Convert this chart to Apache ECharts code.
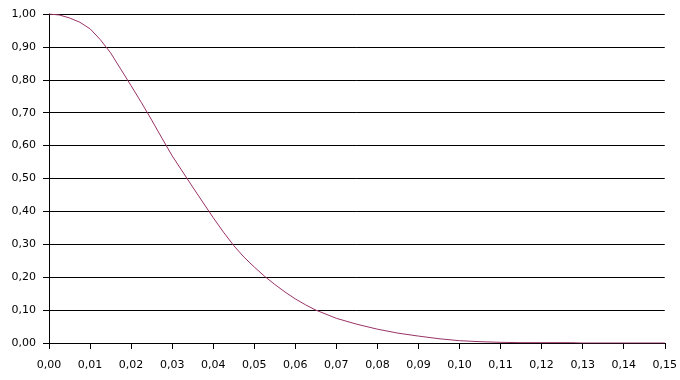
<!DOCTYPE html>
<html>
<head>
<meta charset="utf-8">
<script src="https://cdn.jsdelivr.net/npm/echarts@6/dist/echarts.min.js"></script>
<style>
html,body{margin:0;padding:0;background:#fff;}
#c{width:680px;height:380px;}
</style>
</head>
<body>
<div id="c"></div>
<script>
var xValues = [0, 0.0025, 0.005, 0.0075, 0.01, 0.0125, 0.015, 0.0175, 0.02, 0.0225, 0.025, 0.0275, 0.03, 0.035, 0.04, 0.0425, 0.045, 0.0475, 0.05, 0.0525, 0.055, 0.0575, 0.06, 0.0625, 0.065, 0.07, 0.075, 0.08, 0.085, 0.09, 0.095, 0.10, 0.105, 0.11, 0.115, 0.12, 0.125, 0.127, 0.13, 0.135, 0.14, 0.145, 0.15];
var yValues = [1.000, 0.997, 0.988, 0.975, 0.955, 0.922, 0.882, 0.832, 0.782, 0.731, 0.678, 0.623, 0.569, 0.474, 0.381, 0.337, 0.296, 0.261, 0.231, 0.203, 0.178, 0.155, 0.134, 0.116, 0.100, 0.075, 0.057, 0.042, 0.030, 0.021, 0.013, 0.007, 0.004, 0.002, 0.001, 0.001, 0.001, 0.001, 0, 0, 0, 0, 0];
var xTickInterval = 0.01;
var yTickInterval = 0.1;

function fmt(v){ return v.toFixed(2).replace('.', ','); }

var points = xValues.map(function(x, i){ return [x, yValues[i]]; });

var chart = echarts.init(document.getElementById('c'), null, {renderer:'canvas'});
chart.setOption({
  animation: false,
  backgroundColor: '#ffffff',
  grid: {left: 49, right: 14, top: 14, bottom: 37, containLabel: false},
  xAxis: {
    type: 'value', min: 0, max: 0.15, interval: xTickInterval,
    axisLine: {show: true, onZero: false, lineStyle: {color: '#000', width: 1}},
    axisTick: {show: true, length: 6, lineStyle: {color: '#000'}},
    axisLabel: {color: '#000', fontFamily: 'DejaVu Sans, sans-serif', fontSize: 11, margin: 17, formatter: fmt},
    splitLine: {show: false}
  },
  yAxis: {
    type: 'value', min: 0, max: 1, interval: yTickInterval,
    axisLine: {show: true, lineStyle: {color: '#000', width: 1}},
    axisTick: {show: true, length: 6, lineStyle: {color: '#000'}},
    axisLabel: {color: '#000', fontFamily: 'DejaVu Sans, sans-serif', fontSize: 11, margin: 13, formatter: fmt},
    splitLine: {show: true, lineStyle: {color: '#000', width: 1}}
  },
  series: [{
    type: 'line',
    data: points,
    showSymbol: false,
    symbol: 'none',
    smooth: false,
    lineStyle: {color: '#993366', width: 1},
    z: 5
  }]
});
</script>
</body>
</html>
